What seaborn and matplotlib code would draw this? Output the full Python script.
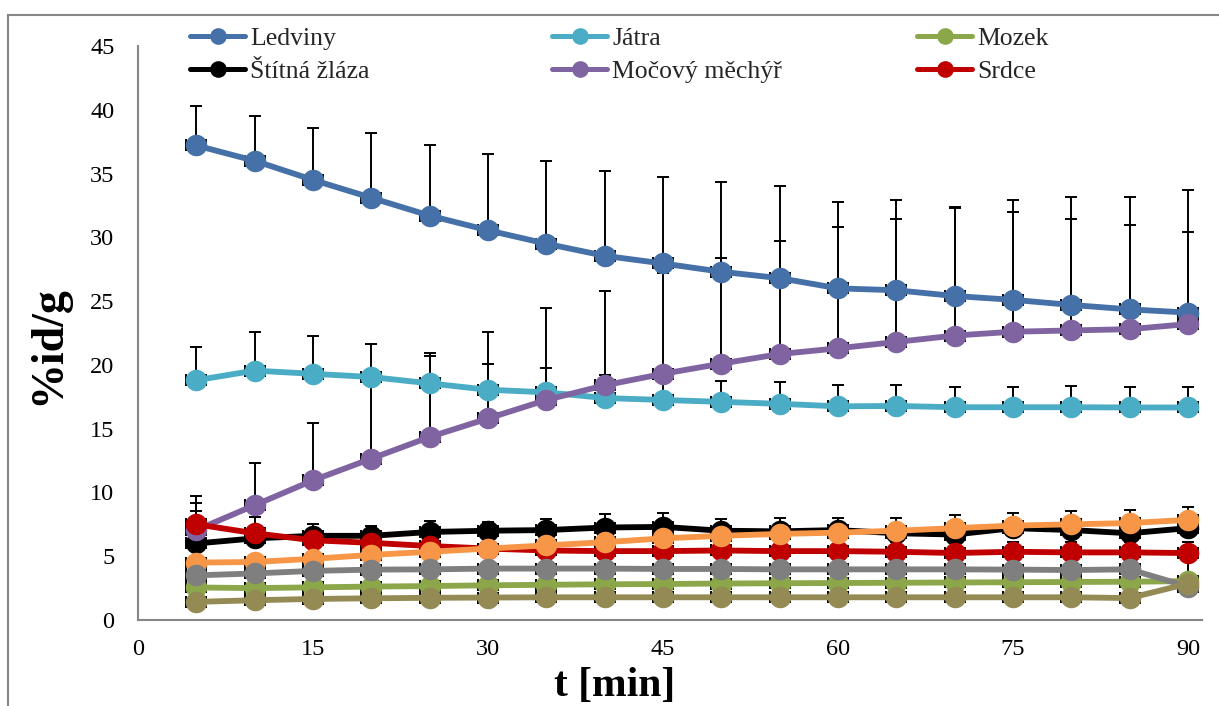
import numpy as np
import pandas as pd
import matplotlib
matplotlib.use("Agg")
import matplotlib.pyplot as plt
import seaborn as sns
from matplotlib.lines import Line2D
from matplotlib.patches import Rectangle

# ---------------- data ----------------
time_min = [5, 10, 15, 20, 25, 30, 35, 40, 45, 50, 55, 60, 65, 70, 75, 80, 85, 90]

ledviny = [37.2, 36.0, 34.5, 33.1, 31.7, 30.55, 29.5, 28.55, 27.95, 27.3, 26.8, 26.0, 25.85, 25.4, 25.1, 24.7, 24.35, 24.1]
ledviny_sd = [3.1, 3.5, 4.05, 5.1, 5.55, 6.0, 6.5, 6.65, 6.8, 7.0, 7.2, 6.8, 7.05, 6.95, 6.85, 6.7, 6.6, 6.35]

jatra = [18.8, 19.55, 19.3, 19.05, 18.55, 18.05, 17.85, 17.4, 17.25, 17.1, 16.95, 16.75, 16.78, 16.68, 16.68, 16.68, 16.66, 16.66]
jatra_sd = [2.6, 3.0, 3.0, 2.6, 2.35, 2.0, 1.9, 1.8, 1.65, 1.65, 1.7, 1.65, 1.65, 1.6, 1.6, 1.65, 1.6, 1.6]

mozek = [2.55, 2.5, 2.56, 2.62, 2.66, 2.72, 2.76, 2.8, 2.82, 2.86, 2.88, 2.9, 2.92, 2.94, 2.96, 2.98, 3.0, 3.05]
mozek_sd = [0.3, 0.3, 0.3, 0.3, 0.3, 0.3, 0.3, 0.3, 0.3, 0.3, 0.3, 0.3, 0.3, 0.3, 0.3, 0.3, 0.3, 0.4]

stitna = [6.0, 6.4, 6.6, 6.6, 6.9, 7.0, 7.05, 7.25, 7.3, 7.0, 6.95, 7.05, 6.8, 6.7, 7.2, 7.05, 6.8, 7.2]
stitna_sd = [3.2, 1.7, 0.9, 0.8, 0.85, 0.65, 0.85, 1.05, 1.05, 0.92, 1.07, 0.97, 1.22, 1.53, 1.21, 1.52, 1.82, 1.68]

mocovy = [7.05, 9.0, 10.95, 12.65, 14.35, 15.8, 17.25, 18.4, 19.3, 20.1, 20.85, 21.3, 21.8, 22.3, 22.6, 22.7, 22.8, 23.2]
mocovy_sd = [1.5, 3.3, 4.47, 6.0, 6.37, 6.75, 7.18, 7.42, 7.9, 8.3, 8.86, 9.48, 9.67, 10.0, 10.33, 10.5, 10.4, 10.5]

srdce = [7.5, 6.8, 6.25, 6.05, 5.8, 5.6, 5.45, 5.4, 5.4, 5.45, 5.4, 5.4, 5.35, 5.25, 5.35, 5.3, 5.3, 5.25]
srdce_sd = [2.2, 1.3, 0.8, 0.8, 0.8, 0.8, 0.8, 0.8, 0.8, 0.8, 0.8, 0.8, 0.8, 0.85, 0.8, 0.85, 0.85, 0.9]

serie7 = [4.5, 4.55, 4.8, 5.1, 5.35, 5.6, 5.85, 6.1, 6.4, 6.6, 6.75, 6.85, 7.0, 7.2, 7.4, 7.5, 7.6, 7.85]
serie7_sd = [0.5, 0.5, 0.5, 0.5, 0.5, 0.5, 0.5, 0.5, 0.5, 0.5, 0.5, 0.5, 0.5, 0.5, 0.5, 0.5, 0.5, 0.5]

serie8 = [3.5, 3.65, 3.85, 3.95, 3.97, 4.03, 4.03, 4.03, 4.0, 4.0, 3.97, 3.97, 3.97, 3.97, 3.95, 3.92, 3.97, 2.62]
serie8_sd = [0.5, 0.5, 0.5, 0.5, 0.5, 0.5, 0.5, 0.5, 0.5, 0.5, 0.5, 0.5, 0.5, 0.5, 0.5, 0.5, 0.5, 2.1]

serie9 = [1.42, 1.55, 1.65, 1.7, 1.74, 1.76, 1.78, 1.78, 1.78, 1.78, 1.78, 1.78, 1.78, 1.78, 1.78, 1.78, 1.72, 2.85]
serie9_sd = [0.3, 0.3, 0.3, 0.3, 0.3, 0.3, 0.3, 0.3, 0.3, 0.3, 0.3, 0.3, 0.3, 0.3, 0.3, 0.3, 0.3, 0.3]

series_names = ["Ledviny", "Játra", "Mozek", "Štítná žláza", "Močový měchýř", "Srdce",
                "Série 7", "Série 8", "Série 9"]
series_values = [ledviny, jatra, mozek, stitna, mocovy, srdce, serie7, serie8, serie9]
series_sd = [ledviny_sd, jatra_sd, mozek_sd, stitna_sd, mocovy_sd, srdce_sd, serie7_sd, serie8_sd, serie9_sd]
series_colors = ["#4571A8", "#4BACC6", "#8BA74A", "#000000", "#8064A2", "#C00000",
                 "#F79646", "#7F7F7F", "#948A54"]
legend_names = ["Ledviny", "Játra", "Mozek", "Štítná žláza", "Močový měchýř", "Srdce"]

x_ticks = [0, 15, 30, 45, 60, 75, 90]
y_ticks = [0, 5, 10, 15, 20, 25, 30, 35, 40, 45]
x_label = "t [min]"
y_label = "%id/g"

# ---------------- style ----------------
sns.set_theme(style="white")
plt.rcParams["font.family"] = ["Liberation Serif", "DejaVu Serif"]

W, H = 1219, 706
fig = plt.figure(figsize=(W / 100, H / 100), dpi=100)
ax_left, ax_right, ax_top, ax_bottom = 138, 1202, 46, 620
ax = fig.add_axes([ax_left / W, 1 - ax_bottom / H, (ax_right - ax_left) / W, (ax_bottom - ax_top) / H])

df = pd.concat([
    pd.DataFrame({"t": time_min, "value": v, "organ": n})
    for n, v in zip(series_names, series_values)
], ignore_index=True)

palette = dict(zip(series_names, series_colors))

# error bars (behind the lines)
for vals, sd in zip(series_values, series_sd):
    ax.errorbar(time_min, vals, yerr=[np.zeros(len(sd)), sd], xerr=0.85,
                fmt="none", ecolor="black", elinewidth=1.4, capsize=4.5,
                capthick=1.4, zorder=2)

sns.lineplot(data=df, x="t", y="value", hue="organ", hue_order=series_names,
             palette=palette, marker="o", markersize=15.5, markeredgewidth=0,
             linewidth=4.2, errorbar=None, legend=False, ax=ax, zorder=3,
             sort=False)

ax.set_xlim(0, (ax_right - ax_left) / ((1188 - 138) / 90))
ax.set_ylim(0, 45)
ax.set_xticks(x_ticks)
ax.set_yticks(y_ticks)
ax.set_xlabel("")
ax.set_ylabel("")
for s in ["top", "right"]:
    ax.spines[s].set_visible(False)
for s in ["left", "bottom"]:
    ax.spines[s].set_color("#868686")
    ax.spines[s].set_linewidth(1.5)
ax.tick_params(axis="both", which="major", direction="out", length=5, width=1.5,
               color="#868686", labelsize=17.5, labelcolor="black")
ax.tick_params(axis="x", pad=9)
ax.tick_params(axis="y", pad=12)
ax.grid(False)

# axis titles
fig.text(615 / W, 10 / H, x_label, ha="center", va="baseline",
         fontsize=30, fontweight="bold", color="black")
fig.text(48 / W, 1 - 345 / H, y_label, ha="center", va="center", rotation=90,
         fontsize=33, fontweight="bold", color="black")

# figure border (chart area)
fig.patches.append(Rectangle((8 / W, -0.2), 1.5, (H - 15) / H + 0.2,
                             transform=fig.transFigure, fill=False,
                             edgecolor="#868686", linewidth=1.5, clip_on=False))

# legend: three columns evenly spaced, two rows each
col_x = [190, 552, 917]
cols = [["Ledviny", "Štítná žláza"], ["Játra", "Močový měchýř"], ["Mozek", "Srdce"]]
for cx, names in zip(col_x, cols):
    handles = [Line2D([], [], color=palette[n], lw=3.6, marker="o", markersize=12,
                      markeredgewidth=0) for n in names]
    fig.legend(handles, names, loc="upper left",
               bbox_to_anchor=(cx / W, 1 - 27 / H), frameon=False,
               fontsize=18.5, handlelength=2.15, handletextpad=0.2,
               borderpad=0, borderaxespad=0, labelspacing=0.4)

fig.savefig("out.png", dpi=100)
